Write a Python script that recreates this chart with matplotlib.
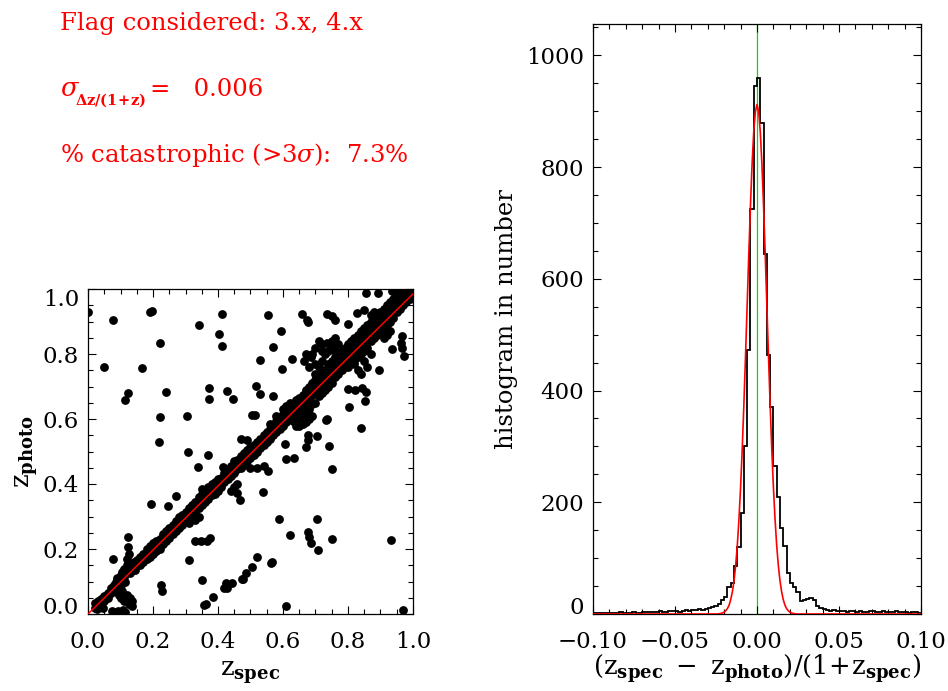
import numpy as np
import matplotlib
matplotlib.use("Agg")
import matplotlib.pyplot as plt
from matplotlib.ticker import MultipleLocator

# ─────────────────────────────────────────────────────────────────────────────
# Data
# ─────────────────────────────────────────────────────────────────────────────
# main band of the z_spec / z_photo scatter, grouped by z_spec
band_rows = [
    (0.020, [0.020, 0.035]), (0.030, [0.025, 0.040]), (0.040, [0.045, 0.030]),
    (0.050, [0.055, 0.040]), (0.060, [0.050, 0.065]), (0.070, [0.065, 0.080]),
    (0.080, [0.075, 0.090]), (0.085, [0.080, 0.100]), (0.090, [0.085, 0.110, 0.070]),
    (0.095, [0.100, 0.060]), (0.100, [0.090, 0.120, 0.050]), (0.105, [0.105, 0.130, 0.070]),
    (0.110, [0.115, 0.140, 0.040]), (0.115, [0.125, 0.100]), (0.120, [0.130, 0.150, 0.060, 0.170]),
    (0.125, [0.140, 0.030]), (0.130, [0.125, 0.145, 0.050]), (0.135, [0.150, 0.040]),
    (0.140, [0.140, 0.160]), (0.145, [0.155, 0.135]), (0.150, [0.150, 0.165]),
    (0.160, [0.150, 0.165, 0.175]), (0.170, [0.160, 0.175, 0.185]), (0.180, [0.170, 0.185, 0.200]),
    (0.190, [0.175, 0.195, 0.210]), (0.200, [0.185, 0.205, 0.220]), (0.210, [0.195, 0.210, 0.225]),
    (0.220, [0.200, 0.215, 0.230]), (0.230, [0.215, 0.235, 0.245]), (0.240, [0.225, 0.245, 0.255]),
    (0.250, [0.235, 0.250, 0.265]), (0.260, [0.245, 0.265, 0.275]), (0.270, [0.255, 0.270, 0.285]),
    (0.280, [0.265, 0.285, 0.300]), (0.290, [0.275, 0.290, 0.305]), (0.300, [0.285, 0.305, 0.315]),
    (0.310, [0.280, 0.295, 0.310, 0.325]), (0.320, [0.305, 0.325, 0.335]),
    (0.330, [0.290, 0.315, 0.330, 0.345]), (0.340, [0.300, 0.325, 0.345, 0.360]),
    (0.350, [0.335, 0.355, 0.370, 0.385]), (0.360, [0.345, 0.360, 0.380]),
    (0.370, [0.355, 0.375, 0.390]), (0.380, [0.365, 0.385, 0.400]), (0.390, [0.370, 0.390, 0.405]),
    (0.400, [0.380, 0.400, 0.415]), (0.410, [0.390, 0.405, 0.420]), (0.420, [0.405, 0.420, 0.435]),
    (0.430, [0.415, 0.435, 0.445]), (0.440, [0.380, 0.425, 0.440, 0.455]),
    (0.450, [0.390, 0.435, 0.455, 0.470]), (0.460, [0.400, 0.445, 0.460, 0.475]),
    (0.470, [0.450, 0.470, 0.485, 0.540]), (0.480, [0.460, 0.480, 0.495]),
    (0.490, [0.470, 0.490, 0.505, 0.535]), (0.500, [0.450, 0.480, 0.500, 0.515]),
    (0.510, [0.490, 0.505, 0.520]), (0.520, [0.450, 0.500, 0.515, 0.530]),
    (0.530, [0.510, 0.525, 0.540]), (0.540, [0.455, 0.520, 0.535, 0.550]),
    (0.550, [0.530, 0.545, 0.560]), (0.555, [0.440]),
    (0.560, [0.540, 0.555, 0.570, 0.585]), (0.570, [0.550, 0.565, 0.580]),
    (0.580, [0.560, 0.575, 0.595, 0.610]), (0.590, [0.570, 0.585, 0.600]),
    (0.600, [0.580, 0.600, 0.615, 0.630]), (0.610, [0.590, 0.605, 0.620, 0.640]),
    (0.620, [0.600, 0.615, 0.635, 0.650]), (0.630, [0.595, 0.610, 0.625, 0.640]),
    (0.640, [0.580, 0.600, 0.625, 0.645, 0.660]), (0.650, [0.580, 0.600, 0.620, 0.645, 0.665]),
    (0.660, [0.585, 0.610, 0.635, 0.655, 0.675]), (0.665, [0.780]),
    (0.670, [0.590, 0.620, 0.645, 0.665, 0.690, 0.800]), (0.680, [0.600, 0.630, 0.660, 0.680, 0.700, 0.760]),
    (0.685, [0.790]), (0.690, [0.610, 0.645, 0.675, 0.690, 0.710, 0.800]),
    (0.700, [0.650, 0.685, 0.700, 0.720, 0.740, 0.770, 0.820]),
    (0.710, [0.670, 0.695, 0.710, 0.730, 0.760, 0.840]),
    (0.720, [0.680, 0.700, 0.720, 0.745, 0.780, 0.810, 0.830]),
    (0.730, [0.690, 0.715, 0.730, 0.750, 0.800]), (0.735, [0.835]),
    (0.740, [0.700, 0.725, 0.745, 0.770, 0.810]), (0.750, [0.710, 0.735, 0.755, 0.780, 0.820, 0.840]),
    (0.760, [0.730, 0.750, 0.770, 0.790, 0.810, 0.850]), (0.770, [0.740, 0.760, 0.780, 0.800, 0.830]),
    (0.780, [0.750, 0.770, 0.790, 0.810]), (0.790, [0.760, 0.780, 0.800, 0.820]),
    (0.800, [0.760, 0.770, 0.790, 0.810, 0.830]), (0.810, [0.780, 0.800, 0.820, 0.840]),
    (0.820, [0.770, 0.780, 0.810, 0.830, 0.850]), (0.830, [0.750, 0.790, 0.820, 0.840, 0.860]),
    (0.840, [0.740, 0.800, 0.830, 0.850, 0.870]), (0.850, [0.780, 0.810, 0.840, 0.860, 0.880]),
    (0.860, [0.760, 0.820, 0.850, 0.870, 0.890]), (0.870, [0.800, 0.840, 0.860, 0.880, 0.900, 0.920]),
    (0.880, [0.850, 0.870, 0.890, 0.910, 0.930]), (0.890, [0.860, 0.880, 0.900, 0.920]),
    (0.900, [0.870, 0.890, 0.910, 0.930]), (0.910, [0.850, 0.880, 0.900, 0.915, 0.940]),
    (0.920, [0.860, 0.890, 0.910, 0.925, 0.950]), (0.930, [0.870, 0.900, 0.920, 0.940, 0.960]),
    (0.940, [0.910, 0.930, 0.950, 0.970]), (0.950, [0.930, 0.945, 0.960, 0.980, 0.990]),
    (0.960, [0.940, 0.955, 0.970, 0.990, 1.000]), (0.970, [0.950, 0.965, 0.980, 0.990, 1.000]),
    (0.980, [0.960, 0.975, 0.990, 1.000]), (0.985, [0.995]),
    (0.990, [0.970, 0.975, 0.985, 1.000]), (1.000, [0.980, 0.990, 1.000]),
]

# scattered outliers (z_spec, z_photo)
outliers = [
    (0.000, 0.928), (0.078, 0.905), (0.191, 0.928), (0.198, 0.931), (0.342, 0.889),
    (0.411, 0.923), (0.403, 0.861), (0.411, 0.826), (0.221, 0.833), (0.049, 0.761),
    (0.166, 0.758), (0.122, 0.679), (0.114, 0.658), (0.239, 0.682), (0.222, 0.607),
    (0.219, 0.528), (0.304, 0.609), (0.371, 0.695), (0.371, 0.661), (0.428, 0.685),
    (0.447, 0.662), (0.308, 0.500), (0.555, 0.920), (0.593, 0.870), (0.570, 0.822),
    (0.530, 0.783), (0.628, 0.784), (0.598, 0.754), (0.518, 0.703), (0.530, 0.678),
    (0.570, 0.672), (0.505, 0.611), (0.513, 0.613), (0.657, 0.922), (0.674, 0.906),
    (0.677, 0.898), (0.736, 0.923), (0.752, 0.918), (0.761, 0.906), (0.799, 0.893),
    (0.829, 0.927), (0.850, 0.935), (0.855, 0.987), (0.891, 0.987), (0.936, 0.994),
    (0.967, 0.855), (0.963, 0.834), (0.967, 0.817), (0.972, 0.794), (0.936, 0.814),
    (0.895, 0.751), (0.855, 0.684), (0.851, 0.656), (0.842, 0.694), (0.821, 0.689),
    (0.799, 0.692), (0.803, 0.638), (0.839, 0.571), (0.734, 0.600), (0.731, 0.596),
    (0.742, 0.516), (0.750, 0.447), (0.677, 0.551), (0.705, 0.547), (0.672, 0.514),
    (0.678, 0.535), (0.605, 0.522), (0.608, 0.477), (0.634, 0.479), (0.537, 0.374),
    (0.460, 0.373), (0.468, 0.351), (0.589, 0.291), (0.705, 0.293), (0.623, 0.242),
    (0.677, 0.251), (0.680, 0.236), (0.687, 0.219), (0.708, 0.198), (0.752, 0.232),
    (0.933, 0.229), (0.970, 0.012), (0.608, 0.026), (0.565, 0.161), (0.562, 0.158),
    (0.521, 0.175), (0.504, 0.146), (0.485, 0.125), (0.478, 0.108), (0.473, 0.107),
    (0.442, 0.094), (0.424, 0.094), (0.419, 0.080), (0.427, 0.080), (0.386, 0.053),
    (0.363, 0.031), (0.357, 0.028), (0.351, 0.105), (0.311, 0.166), (0.329, 0.226),
    (0.348, 0.226), (0.365, 0.226), (0.375, 0.233), (0.195, 0.339), (0.247, 0.333),
    (0.272, 0.363), (0.225, 0.088), (0.228, 0.071), (0.129, 0.033), (0.135, 0.025),
    (0.078, 0.168), (0.122, 0.237), (0.124, 0.206), (0.125, 0.185), (0.075, 0.010),
    (0.093, 0.009), (0.107, 0.012), (0.114, 0.007), (0.027, 0.028), (0.045, 0.017),
    (0.027, 0.014), (0.416, 0.453), (0.369, 0.489), (0.338, 0.453),
]

# red line over the scatter panel
line_zspec = [0.0, 1.0]
line_zphoto = [0.0, 0.985]

# histogram of (z_spec - z_photo)/(1+z_spec), bins of 0.002 from -0.10 to 0.10
hist_lo, hist_hi = -0.10, 0.10
hist_counts = [
    2, 1, 2, 1, 1, 2, 1, 2, 3, 2, 1, 2, 3, 2, 2, 3, 4, 3, 3, 4,
    5, 4, 3, 5, 6, 5, 4, 6, 7, 6, 8, 7, 9, 8, 9, 10, 12, 14, 18, 25,
    31, 48, 56, 86, 120, 181, 300, 473, 724, 945, 960, 879, 645, 463, 370, 265, 210, 154, 122, 74,
    55, 49, 40, 23, 25, 26, 28, 25, 14, 10, 9, 8, 6, 7, 5, 5, 6, 4, 5, 6,
    4, 5, 3, 4, 5, 6, 4, 3, 5, 4, 3, 4, 5, 3, 4, 3, 2, 3, 4, 2,
]

# red gaussian fit, read at 0.001 steps between -0.024 and 0.024
fit_values = [
    0, 0.5, 1, 2, 3.5, 6, 10, 16, 26, 40, 60, 87, 123, 170, 227, 296, 375, 462, 553, 645,
    730, 805, 863, 899, 912, 899, 863, 805, 730, 645, 553, 462, 375, 296, 227, 170, 123, 87, 60, 40,
    26, 16, 10, 6, 3.5, 2, 1, 0.5, 0,
]

flag_text = "Flag considered: 3.x, 4.x"
sigma_value = "=   0.006"
sigma_sub = r"$\mathbf{\Delta z/(1\!+\!z)}$"
catastrophic_text = r"% catastrophic (>3$\sigma$):  7.3%"

# ─────────────────────────────────────────────────────────────────────────────
# Plot
# ─────────────────────────────────────────────────────────────────────────────
plt.rcParams["font.family"] = ["DejaVu Serif"]
plt.rcParams["mathtext.fontset"] = "dejavuserif"
FS = 17.5      # info text / labels
TFS = 16.5     # tick labels

W, H = 948, 691
fig = plt.figure(figsize=(W / 100, H / 100), dpi=100)


def style_axes(ax):
    ax.tick_params(which="both", direction="in", top=True, right=True,
                   labelsize=TFS, width=0.8)
    ax.tick_params(axis="x", which="both", pad=12)
    ax.tick_params(axis="y", which="both", pad=6.5)
    ax.tick_params(which="major", length=6)
    ax.tick_params(which="minor", length=3.5)
    for sp in ax.spines.values():
        sp.set_linewidth(0.9)


def nudge_edge_labels(ax, bottom=None, top=None):
    # IDL pushes the end labels of the y axis inside the box
    # (call after a first draw so that every tick object already exists)
    for t in ax.yaxis.get_major_ticks():
        loc = t.get_loc()
        if bottom is not None and abs(loc - bottom) < 1e-9:
            t.label1.set_verticalalignment("baseline")
        elif top is not None and abs(loc - top) < 1e-9:
            t.label1.set_verticalalignment("top")
        else:
            t.label1.set_verticalalignment("center_baseline")


# ── scatter panel ───────────────────────────────────────────────────────────
ax1 = fig.add_axes([88 / W, 1 - 614 / H, 325 / W, 325 / H])
zs = [x for x, ys in band_rows for _ in ys] + [p[0] for p in outliers]
zp = [y for _, ys in band_rows for y in ys] + [p[1] for p in outliers]
ax1.scatter(zs, zp, s=40, color="black", linewidths=0, zorder=2)
ax1.plot(line_zspec, line_zphoto, color="red", lw=1.1, zorder=3)
ax1.set_xlim(0, 1)
ax1.set_ylim(0, 1)
ax1.xaxis.set_major_locator(MultipleLocator(0.2))
ax1.xaxis.set_minor_locator(MultipleLocator(0.05))
ax1.yaxis.set_major_locator(MultipleLocator(0.2))
ax1.yaxis.set_minor_locator(MultipleLocator(0.05))
ax1.xaxis.set_major_formatter(lambda v, p: f"{v:.1f}")
ax1.yaxis.set_major_formatter(lambda v, p: f"{v:.1f}")
style_axes(ax1)
ax1.set_xlabel(r"$\mathrm{z}_{\mathbf{spec}}$", fontsize=FS + 1, labelpad=5)
ax1.set_ylabel(r"$\mathrm{z}_{\mathbf{photo}}$", fontsize=FS + 1, labelpad=2)

# ── histogram panel ─────────────────────────────────────────────────────────
ax2 = fig.add_axes([593 / W, 1 - 614 / H, 328 / W, 590 / H])
edges = np.linspace(hist_lo, hist_hi, len(hist_counts) + 1)
ax2.stairs(hist_counts, edges, color="black", lw=1.3, zorder=2)
fit_x = np.linspace(-0.024, 0.024, len(fit_values))
fit_x = np.concatenate([[hist_lo], fit_x, [hist_hi]])
fit_y = np.concatenate([[0], fit_values, [0]])
ax2.plot(fit_x, fit_y, color="red", lw=1.2, zorder=3)
ax2.axvline(0.0, color="#00dd00", lw=0.9, zorder=1)
ax2.set_xlim(hist_lo, hist_hi)
ax2.set_ylim(0, 1.1 * max(hist_counts))
ax2.xaxis.set_major_locator(MultipleLocator(0.05))
ax2.xaxis.set_minor_locator(MultipleLocator(0.01))
ax2.yaxis.set_major_locator(MultipleLocator(200))
ax2.yaxis.set_minor_locator(MultipleLocator(50))
ax2.xaxis.set_major_formatter(lambda v, p: f"{v:.2f}".replace("-", "\u2212"))
style_axes(ax2)
ax2.set_xlabel(r"$(\mathrm{z}_{\mathbf{spec}}\ -\ \mathrm{z}_{\mathbf{photo}})/(1\!+\!\mathrm{z}_{\mathbf{spec}})$",
               fontsize=FS + 1, labelpad=0)
ax2.set_ylabel("histogram in number", fontsize=FS, labelpad=6)

# ── red info text ───────────────────────────────────────────────────────────
fig.text(60 / W, 1 - 30 / H, flag_text, color="red", fontsize=FS, va="baseline")
fig.text(60 / W, 1 - 96 / H, r"$\sigma$", color="red", fontsize=FS + 1, va="baseline")
fig.text(75 / W, 1 - 105 / H, sigma_sub, color="red", fontsize=10.5, va="baseline")
fig.text(150 / W, 1 - 96 / H, sigma_value, color="red", fontsize=FS, va="baseline")
fig.text(60 / W, 1 - 162 / H, catastrophic_text, color="red", fontsize=FS, va="baseline")

fig.canvas.draw()
nudge_edge_labels(ax1, bottom=0.0, top=1.0)
nudge_edge_labels(ax2, bottom=0.0)

fig.savefig("out.png", dpi=100)
